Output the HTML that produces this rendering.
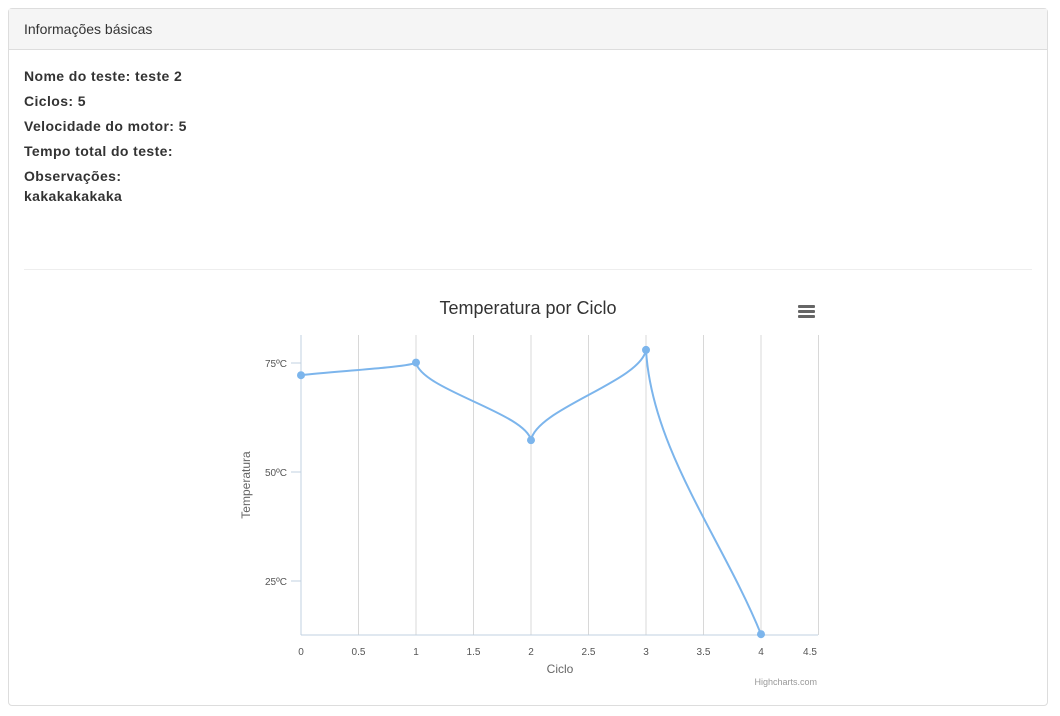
<!DOCTYPE html>
<html><head><meta charset="utf-8">
<style>
body{margin:0;background:#fff;font-family:"Liberation Sans",sans-serif;width:1060px;height:716px;overflow:hidden;position:relative}
.panel{position:absolute;left:8px;top:8px;width:1038px;height:696px;border:1px solid #ddd;border-radius:4px}
.head{height:40px;background:#f5f5f5;border-bottom:1px solid #ddd;font-size:14px;color:#333;line-height:41px;padding-left:15px}
.info{position:absolute;left:15px;top:57px;font-size:14px;font-weight:bold;color:#333;line-height:20px;letter-spacing:0.4px}
.info div{margin-bottom:5px}
.hr{position:absolute;left:15px;top:260px;width:1008px;height:1px;background:#eee}
svg{position:absolute;left:0;top:0}
</style></head><body>
<div class="panel">
<div class="head">Informações básicas</div>
<div class="info">
<div>Nome do teste: teste 2</div>
<div>Ciclos: 5</div>
<div>Velocidade do motor: 5</div>
<div>Tempo total do teste:</div>
<div>Observações:<br>kakakakakaka</div>
</div>
<div class="hr"></div>
</div>
<svg id="chart" width="1060" height="716">
<text x="528" y="314" text-anchor="middle" font-size="18" fill="#333">Temperatura por Ciclo</text>
<g fill="#666">
<rect x="798" y="305" width="17" height="3" rx="1"/><rect x="798" y="310" width="17" height="3" rx="1"/><rect x="798" y="315" width="17" height="3" rx="1"/></g>
<text x="250" y="485" transform="rotate(-90 250 485)" text-anchor="middle" font-size="12" fill="#666">Temperatura</text>
<text x="560" y="673" text-anchor="middle" font-size="12" fill="#666">Ciclo</text>
<text x="817" y="685" text-anchor="end" font-size="9" fill="#999">Highcharts.com</text>
</svg>
<script>
const xTicks=[0,0.5,1,1.5,2,2.5,3,3.5,4,4.5];
const yTicks=[25,50,75];
const cycles=[0,1,2,3,4];
const temps=[72.2,75.1,57.3,78,12.8];
const svg=document.getElementById('chart');
const NS='http://www.w3.org/2000/svg';
const X=v=>301+v*115, Y=v=>363-(v-75)*4.36;
function mk(t,a){const e=document.createElementNS(NS,t);for(const k in a)e.setAttribute(k,a[k]);svg.appendChild(e);return e;}
xTicks.forEach((t,i)=>{
 if(t>0){const g=mk('line',{x1:X(t),x2:X(t),y1:335,y2:635,stroke:'#d8d8d8'});
 
 }
 const lx=Math.min(X(t),810);
 const l=mk('text',{x:lx,y:655,'text-anchor':'middle','font-size':10,fill:'#555'});l.textContent=t;
 
 
});
yTicks.forEach(t=>{
 const tk=mk('line',{x1:291,x2:301,y1:Y(t),y2:Y(t),stroke:'#c0d0e0'});
 
 
 const l=mk('text',{x:287,y:Y(t)+4,'text-anchor':'end','font-size':10,fill:'#555'});l.textContent=t+'ºC';
 
 
});
const ya=mk('line',{x1:301,x2:301,y1:335,y2:635,stroke:'#c0d0e0'});


const xa=mk('line',{x1:301,x2:818,y1:635,y2:635,stroke:'#c0d0e0'});


let d='M'+X(cycles[0])+' '+Y(temps[0]);
const n=cycles.length;
for(let i=0;i<n-1;i++){
 const px=X(cycles[i]),py=Y(temps[i]),qx=X(cycles[i+1]),qy=Y(temps[i+1]);
 const dx=qx-px,dy=qy-py;
 const c1=i>0?[px+0.05*dx,py+0.35*dy]:[px+dx/3,py+dy/3];
 const c2=i<n-2?[qx-0.05*dx,qy-0.35*dy]:[qx-dx/3,qy-dy/3];
 d+=' C'+c1[0]+' '+c1[1]+' '+c2[0]+' '+c2[1]+' '+qx+' '+qy;
}
const p=mk('path',{d:d,fill:'none',stroke:'#7cb5ec','stroke-width':2});


cycles.forEach((c,i)=>{
 const m=mk('circle',{cx:X(c),cy:Y(temps[i]),r:4,fill:'#7cb5ec'});
 
 
});
</script>
</body></html>
